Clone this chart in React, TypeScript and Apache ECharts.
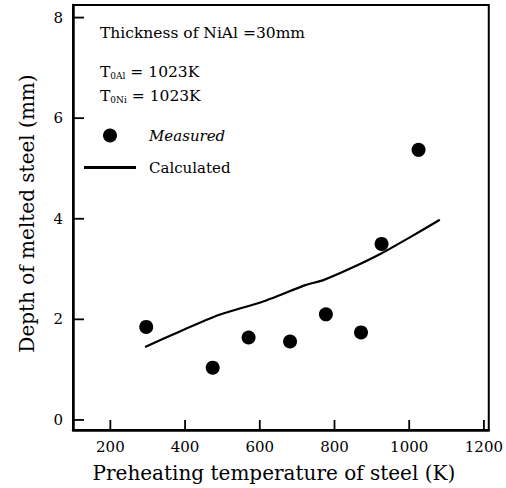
import React, { useEffect, useRef } from "react";
import * as echarts from "echarts";

// Measured melt depth of steel vs preheating temperature
const measuredTemp = [296, 474, 570, 681, 777, 871, 926, 1025];
const measuredDepth = [1.85, 1.04, 1.64, 1.56, 2.1, 1.74, 3.5, 5.37];

// Calculated curve
const calcTemp = [293, 386, 492, 607, 722, 770, 845, 925, 1004, 1082];
const calcDepth = [1.45, 1.76, 2.09, 2.35, 2.68, 2.78, 3.02, 3.31, 3.64, 3.98];

// Axis ranges and tick values
const xMin = 100;
const xMax = 1213;
const yMin = -0.2;
const yMax = 8.25;
const xTickValues = [200, 400, 600, 800, 1000, 1200];
const yTickValues = [0, 2, 4, 6, 8];

const FONT = "DejaVu Serif";

export default function App() {
  const ref = useRef<HTMLDivElement>(null);

  useEffect(() => {
    if (!ref.current) return;
    const chart = echarts.init(ref.current, undefined, { renderer: "svg" });

    const tickLine = (x1: number, y1: number, x2: number, y2: number) => ({
      type: "line",
      shape: { x1, y1, x2, y2 },
      style: { stroke: "#000", lineWidth: 1.8 },
    });

    const subRich = {
      sub: { fontFamily: FONT, fontSize: 9, padding: [8, 0, 0, 0], fill: "#000" },
    };

    chart.setOption({
      animation: false,
      backgroundColor: "#fff",
      textStyle: { fontFamily: FONT, color: "#000" },
      grid: {
        left: 73,
        right: 14,
        top: 5,
        bottom: 58,
        show: true,
        borderColor: "#000",
        borderWidth: 2,
        backgroundColor: "transparent",
      },
      xAxis: {
        type: "value",
        min: xMin,
        max: xMax,
        interval: 100,
        name: "Preheating temperature of steel (K)",
        nameLocation: "middle",
        nameGap: 33,
        nameTextStyle: { fontFamily: FONT, fontSize: 20, color: "#000", padding: [0, 14, 0, 0] },
        axisLine: { show: true, onZero: false, lineStyle: { color: "#000", width: 2.5 } },
        axisTick: { show: false },
        splitLine: { show: false },
        axisLabel: {
          fontFamily: FONT,
          fontSize: 15,
          color: "#000",
          margin: 9,
          showMaxLabel: true,
          formatter: (v: number) => (Math.abs(v % 200) < 1e-6 ? String(v) : ""),
        },
      },
      yAxis: {
        type: "value",
        min: yMin,
        max: yMax,
        interval: 0.2,
        name: "Depth of melted steel (mm)",
        nameLocation: "middle",
        nameGap: 36,
        nameTextStyle: { fontFamily: FONT, fontSize: 20, color: "#000", padding: [0, 0, 0, 8] },
        axisLine: { show: true, onZero: false, lineStyle: { color: "#000", width: 2.5 } },
        axisTick: { show: false },
        splitLine: { show: false },
        axisLabel: {
          fontFamily: FONT,
          fontSize: 15,
          color: "#000",
          margin: 10,
          formatter: (v: number) =>
            Math.abs(v / 2 - Math.round(v / 2)) < 1e-6 ? String(Math.round(v)) : "",
        },
      },
      legend: {
        orient: "vertical",
        left: 84,
        top: 128,
        padding: 0,
        itemWidth: 52,
        itemHeight: 14,
        itemGap: 17,
        textStyle: { fontFamily: FONT, fontSize: 15, color: "#000", padding: [0, 0, 0, 8] },
        data: [
          { name: "Measured", textStyle: { fontStyle: "italic" } },
          { name: "Calculated", icon: "path://M0,0L52,0L52,3L0,3Z" },
        ],
      },
      graphic: [
        {
          type: "text",
          left: 100,
          top: 25,
          style: { text: "Thickness of NiAl =30mm", font: `15.5px '${FONT}'`, fill: "#000" },
        },
        {
          type: "text",
          left: 100,
          top: 64,
          style: {
            text: "T{sub|0Al} = 1023K",
            font: `15.5px '${FONT}'`,
            fill: "#000",
            rich: subRich,
          },
        },
        {
          type: "text",
          left: 100,
          top: 88,
          style: {
            text: "T{sub|0Ni} = 1023K",
            font: `15.5px '${FONT}'`,
            fill: "#000",
            rich: subRich,
          },
        },
      ],
      series: [
        {
          name: "Measured",
          type: "scatter",
          symbol: "circle",
          symbolSize: 14,
          itemStyle: { color: "#000", opacity: 1 },
          data: measuredTemp.map((t, i) => [t, measuredDepth[i]]),
          z: 3,
        },
        {
          name: "Calculated",
          type: "line",
          symbol: "none",
          smooth: 0.2,
          lineStyle: { color: "#000", width: 2.2 },
          itemStyle: { color: "#000" },
          data: calcTemp.map((t, i) => [t, calcDepth[i]]),
          z: 2,
        },
        {
          // inward ticks on the bottom axis
          type: "custom",
          silent: true,
          data: xTickValues.map((v) => [v, yMin]),
          renderItem: (_p: any, api: any) => {
            const pt = api.coord([api.value(0), yMin]);
            return tickLine(pt[0], pt[1], pt[0], pt[1] - 10);
          },
          z: 4,
        },
        {
          // inward ticks on the left axis
          type: "custom",
          silent: true,
          data: yTickValues.map((v) => [xMin, v]),
          renderItem: (_p: any, api: any) => {
            const pt = api.coord([xMin, api.value(1)]);
            return tickLine(pt[0], pt[1], pt[0] + 11, pt[1]);
          },
          z: 4,
        },
      ],
    });

    return () => chart.dispose();
  }, []);

  return (
    <div
      ref={ref}
      style={{ position: "absolute", left: 0, top: 0, width: 506, height: 488 }}
    />
  );
}
